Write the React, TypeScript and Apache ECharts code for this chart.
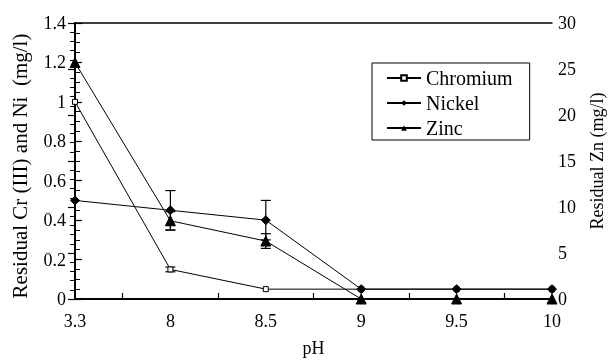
import React, { useEffect, useRef } from "react";
import * as echarts from "echarts";

const categories = ["3.3", "8", "8.5", "9", "9.5", "10"];
const chromium = [1.0, 0.15, 0.05, 0.05, 0.05, 0.05];
const nickel = [0.5, 0.45, 0.4, 0.05, 0.05, 0.05];
const zinc = [25.7, 8.5, 6.3, 0, 0, 0];
const chromiumErr = [0, 0.012, 0, 0, 0, 0];
const nickelErr = [0, 0.1, 0.1, 0, 0, 0];
const zincErr = [0, 1.0, 0.8, 0, 0, 0];

const FONT = "Liberation Serif";

function pts(vals: number[]) {
  return vals.map((v, i) => [i, v]);
}
function errs(vals: number[], e: number[]) {
  const out: number[][] = [];
  vals.forEach((v, i) => {
    if (e[i] > 0) out.push([i, v - e[i], v + e[i]]);
  });
  return out;
}

const errorRender = (params: any, api: any) => {
  const x = api.value(0);
  const lo = api.coord([x, api.value(1)]);
  const hi = api.coord([x, api.value(2)]);
  const w = 5;
  const style = { stroke: "#000", lineWidth: 1.2 };
  return {
    type: "group",
    children: [
      { type: "line", shape: { x1: lo[0], y1: lo[1], x2: hi[0], y2: hi[1] }, style },
      { type: "line", shape: { x1: lo[0] - w, y1: lo[1], x2: lo[0] + w, y2: lo[1] }, style },
      { type: "line", shape: { x1: hi[0] - w, y1: hi[1], x2: hi[0] + w, y2: hi[1] }, style },
    ],
  };
};

export default function App() {
  const ref = useRef<HTMLDivElement>(null);
  useEffect(() => {
    if (!ref.current) return;
    const chart = echarts.init(ref.current, null, { renderer: "svg" });
    chart.setOption({
      animation: false,
      grid: { left: 75, right: 57, top: 23, bottom: 61, containLabel: false, outerBoundsMode: "none" },
      legend: {
        orient: "vertical",
        left: 372,
        top: 63,
        data: ["Chromium", "Nickel", "Zinc"],
        borderColor: "#000",
        borderWidth: 1,
        borderRadius: 0,
        padding: [5, 17, 2, 14],
        itemGap: 5,
        itemWidth: 34,
        itemHeight: 7,
        textStyle: { fontFamily: FONT, fontSize: 20, color: "#000", lineHeight: 20 },
      },
      xAxis: [
        {
          type: "value",
          min: 0,
          max: 5,
          interval: 1,
          name: "pH",
          nameLocation: "middle",
          nameGap: 40,
          nameTextStyle: { fontFamily: FONT, fontSize: 18, color: "#000" },
          axisLine: { show: true, lineStyle: { color: "#000", width: 2 } },
          axisTick: { show: false, inside: true },
          minorTick: { show: true, splitNumber: 2, length: 6, lineStyle: { color: "#000", width: 1.2 } },
          splitLine: { show: false },
          minorSplitLine: { show: false },
          axisLabel: {
            fontFamily: FONT,
            fontSize: 18,
            color: "#000",
            margin: 13,
            formatter: (v: number) => (Number.isInteger(v) ? categories[v] : ""),
          },
        },
        {
          type: "value",
          position: "top",
          min: 0,
          max: 5,
          axisLine: { show: true, onZero: false, lineStyle: { color: "#000", width: 1.5 } },
          axisTick: { show: false },
          axisLabel: { show: false },
          splitLine: { show: false },
        },
      ],
      yAxis: [
        {
          type: "value",
          min: 0,
          max: 1.4,
          interval: 0.2,
          name: "Residual Cr (III) and Ni  (mg/l)",
          nameLocation: "middle",
          nameGap: 45,
          nameTextStyle: { fontFamily: FONT, fontSize: 21, color: "#000", padding: [0, 10, 0, 0] },
          axisLine: { show: true, lineStyle: { color: "#000", width: 2 } },
          axisTick: { show: true, inside: true, length: 7, lineStyle: { color: "#000", width: 1.2 } },
          minorTick: { show: true, splitNumber: 4, length: 5, lineStyle: { color: "#000", width: 1 } },
          splitLine: { show: false },
          axisLabel: { fontFamily: FONT, fontSize: 18, color: "#000", margin: 9 },
        },
        {
          type: "value",
          min: 0,
          max: 30,
          interval: 5,
          position: "right",
          name: "Residual Zn (mg/l)",
          nameLocation: "middle",
          nameGap: 36,
          nameTextStyle: { fontFamily: FONT, fontSize: 18, color: "#000" },
          axisLine: { show: true, lineStyle: { color: "#000", width: 1.5 } },
          axisTick: { show: true, inside: true, length: 7, lineStyle: { color: "#000", width: 1.2 } },
          minorTick: { show: true, splitNumber: 5, length: 5, lineStyle: { color: "#000", width: 1 } },
          splitLine: { show: false },
          axisLabel: { fontFamily: FONT, fontSize: 18, color: "#000", margin: 6 },
        },
      ],
      series: [
        {
          name: "Chromium",
          type: "line",
          yAxisIndex: 0,
          data: pts(chromium),
          symbol: "rect",
          symbolSize: 5,
          clip: false,
          z: 3,
          lineStyle: { color: "#000", width: 1 },
          itemStyle: { color: "#fff", borderColor: "#000", borderWidth: 1 },
        },
        {
          name: "Nickel",
          type: "line",
          yAxisIndex: 0,
          data: pts(nickel),
          symbol: "diamond",
          symbolSize: 9,
          clip: false,
          z: 5,
          lineStyle: { color: "#000", width: 1 },
          itemStyle: { color: "#000", borderColor: "#000" },
        },
        {
          name: "Zinc",
          type: "line",
          yAxisIndex: 1,
          data: pts(zinc),
          symbol: "triangle",
          symbolSize: 10,
          clip: false,
          z: 4,
          lineStyle: { color: "#000", width: 1 },
          itemStyle: { color: "#000", borderColor: "#000" },
        },
        {
          name: "CrErr",
          type: "custom",
          yAxisIndex: 0,
          data: errs(chromium, chromiumErr),
          renderItem: errorRender,
          encode: { x: 0, y: [1, 2] },
          z: 2,
        },
        {
          name: "NiErr",
          type: "custom",
          yAxisIndex: 0,
          data: errs(nickel, nickelErr),
          renderItem: errorRender,
          encode: { x: 0, y: [1, 2] },
          z: 2,
        },
        {
          name: "ZnErr",
          type: "custom",
          yAxisIndex: 1,
          data: errs(zinc, zincErr),
          renderItem: errorRender,
          encode: { x: 0, y: [1, 2] },
          z: 2,
        },
      ],
    });
    return () => chart.dispose();
  }, []);
  return <div ref={ref} style={{ width: 609, height: 360, position: "fixed", left: 0, top: 0 }} />;
}
